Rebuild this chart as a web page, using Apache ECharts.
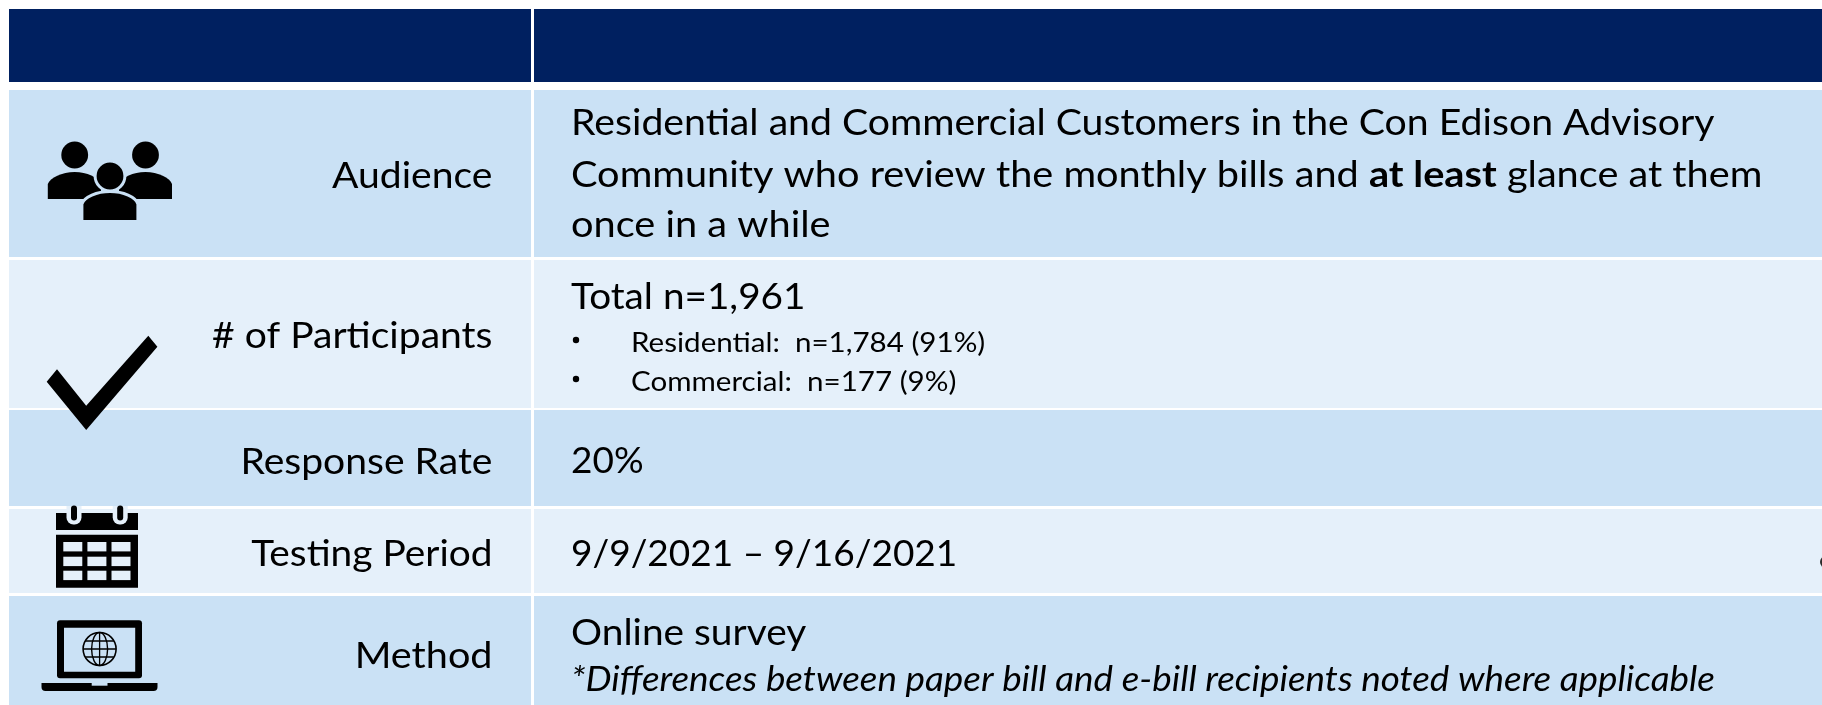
<!DOCTYPE html>
<html style="height:100%;width:100%;">

<head>
  <meta charset="utf-8">
  <title>Survey overview</title>
  <script src="https://cdn.jsdelivr.net/npm/echarts@6/dist/echarts.min.js"></script>
</head>

<body style="margin:0px;height:100%;width:100%;background:#fff;">
  <div id="main" style="width:100%;height:100%"></div>
  <script type="text/javascript" charset="utf-8">
    // table content
    var rowLabels = ['Audience', '# of Participants', 'Response Rate', 'Testing Period', 'Method'];
    var audienceLine1 = 'Residential and Commercial Customers in the Con Edison Advisory';
    var audienceLine2 = ['Community who review the monthly bills and ', 'at least', ' glance at them'];
    var audienceLine3 = 'once in a while';
    var participantsTotal = 'Total n=1,961';
    var participantsSplit = ['Residential:  n=1,784 (91%)', 'Commercial:  n=177 (9%)'];
    var responseRate = '20%';
    var testingPeriod = '9/9/2021 – 9/16/2021';
    var methodMain = 'Online survey';
    var methodNote = '*Differences between paper bill and e-bill recipients noted where applicable';

    var NAVY = '#002060', DARK = '#cae1f5', LIGHT = '#e5f0fa', FONT = 'Lato';
    var elements = [];

    function rect(x, y, w, h, fill, r) {
      elements.push({ type: 'rect', shape: { x: x, y: y, width: w, height: h, r: r || 0 }, style: { fill: fill } });
    }
    function circle(cx, cy, r, fill, stroke, lw) {
      elements.push({ type: 'circle', shape: { cx: cx, cy: cy, r: r }, style: { fill: fill, stroke: stroke, lineWidth: lw || 0 } });
    }
    function path(d, fill, stroke, lw) {
      elements.push({ type: 'path', shape: { pathData: d }, style: { fill: fill, stroke: stroke, lineWidth: lw || 0 } });
    }
    // y is the baseline of the text, sx stretches it to the width of the original
    function text(str, x, y, size, align, sx, italic) {
      elements.push({
        type: 'text', x: x, y: y - size * 0.325, scaleX: sx || 1,
        style: { text: str, x: 0, y: 0, fill: '#000', align: align || 'left', verticalAlign: 'middle',
          font: (italic ? 'italic ' : '') + size + 'px ' + FONT }
      });
    }

    // rows
    rect(9, 9, 522, 73, NAVY);
    rect(534, 9, 1288, 73, NAVY);
    var rowTops = [90, 260, 410, 509, 596];
    var rowBottoms = [257, 408, 506, 593, 705];
    rowTops.forEach(function(top, i) {
      var fill = i % 2 ? LIGHT : DARK;
      rect(9, top, 522, rowBottoms[i] - top, fill);
      rect(534, top, 1288, rowBottoms[i] - top, fill);
    });

    // people icon
    circle(74.7, 155, 13.4, '#000');
    circle(145.5, 155, 13.4, '#000');
    path('M47.8 199V184C50 178 62 172 74.7 172C87 172 98 177 101 184V199Z', '#000');
    path('M172 199V184C170 178 158 172 145.5 172C133 172 122 177 119 184V199Z', '#000');
    path('M81.9 221.5V204C84 197 97 191.5 110 191.5C123 191.5 136 197 137.9 204V221.5Z', '#000', DARK, 3);
    rect(80, 220, 60, 3, DARK);
    circle(110, 176, 14.9, '#000', DARK, 3);

    // check mark
    path('M46.7 381.7L57 369.3L86.2 405.7L148.3 335.7L157.4 346.7L86.2 430Z', '#000');

    // calendar icon
    rect(56, 513, 82, 17, '#000');
    rect(56, 534.7, 82, 53, '#000');
    [63.3, 87.4, 111.5].forEach(function(x) {
      [542, 556.7, 570.7].forEach(function(y) {
        rect(x, y, 19, 9.4, LIGHT);
      });
    });
    [74, 120.2].forEach(function(x) {
      rect(x - 7.5, 506, 15, 18.5, LIGHT, [0, 0, 7, 7]);
      rect(x - 3, 505.5, 6, 15, '#000', 3);
    });

    // laptop icon
    rect(57, 620.3, 85, 58, '#000', 3);
    rect(64, 627.7, 71.2, 44, DARK);
    circle(99.6, 649, 16.5, 'none', '#000', 1.6);
    elements.push({ type: 'ellipse', shape: { cx: 99.6, cy: 649, rx: 8, ry: 16.5 }, style: { fill: 'none', stroke: '#000', lineWidth: 1.4 } });
    path('M99.6 632.5V665.5M83.1 649H116.1M85.5 641H113.7M85.5 657H113.7', 'none', '#000', 1.3);
    rect(41.5, 683, 116, 8, '#000', [0, 0, 4, 4]);
    rect(91.7, 683, 15.8, 2.7, DARK);

    // left column labels, right aligned
    var labelBaselines = [187.7, 348, 474, 566, 668.3];
    var labelStretch = [1.057, 1.056, 1.056, 1.05, 1.07];
    rowLabels.forEach(function(s, i) {
      text(s, 492.5, labelBaselines[i], 37, 'right', labelStretch[i]);
    });

    // right column
    text(audienceLine1, 571, 135, 37, 'left', 1.06);
    elements.push({
      type: 'text', x: 571, y: 186.7 - 37 * 0.325, scaleX: 1.073,
      style: {
        text: '{a|' + audienceLine2[0] + '}{b|' + audienceLine2[1] + '}{a|' + audienceLine2[2] + '}',
        x: 0, y: 0, align: 'left', verticalAlign: 'middle',
        rich: {
          a: { font: '37px ' + FONT, fill: '#000' },
          b: { font: 'bold 37px ' + FONT, fill: '#000' }
        }
      }
    });
    text(audienceLine3, 571, 237.3, 37, 'left', 1.074);
    text(participantsTotal, 571, 309.3, 37, 'left', 1.046);
    participantsSplit.forEach(function(s, i) {
      circle(576, 340 + i * 39, 3.2, '#000');
      text(s, 631, 351.7 + i * 39, 27, 'left', 1.095);
    });
    text(responseRate, 571, 473.5, 37);
    text(testingPeriod, 571, 566, 37);
    text(methodMain, 571, 645.5, 37, 'left', 1.05);
    text(methodNote, 571, 691.5, 34, 'left', 1.083, true);

    // cut off glyph at the right border
    circle(1826, 562, 6, '#2a2a2a');

    var myChart = echarts.init(document.getElementById('main'));
    myChart.setOption({
      animation: false,
      series: [{
        type: 'custom',
        coordinateSystem: 'none',
        silent: true,
        data: [[0]],
        renderItem: function() {
          return { type: 'group', children: elements };
        }
      }]
    });
  </script>
</body>

</html>
